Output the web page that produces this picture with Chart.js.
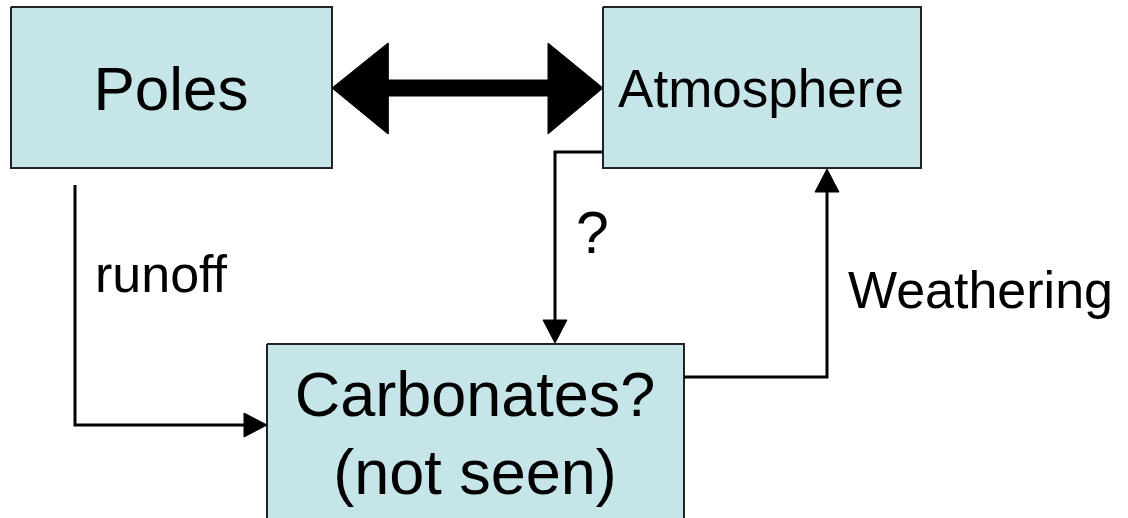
<!DOCTYPE html>
<html>
<head>
<meta charset="utf-8">
<script src="https://cdn.jsdelivr.net/npm/chart.js@4.4.1/dist/chart.umd.min.js"></script>
<style>
  html, body { margin: 0; padding: 0; background: #fff; }
  #wrap { width: 1128px; height: 518px; }
</style>
</head>
<body>
<div id="wrap"><canvas id="diagram" width="1128" height="518"></canvas></div>
<script>
// boxes (diagram units = pixels, y down)
const boxNames = ['Poles', 'Atmosphere', 'Carbonates'];
const boxLeft = [11, 603, 267];
const boxRight = [332, 921, 684];
const boxTop = [7, 7, 344];
const boxBottom = [168, 168, 530];

// connectors: polyline points, then arrowhead tip
const runoffPath = [[75, 185], [75, 425], [245, 425]];
const runoffTip = [267, 425];
const questionPath = [[603, 152], [555, 152], [555, 322]];
const questionTip = [555, 343];
const weatheringPath = [[684, 377], [827, 377], [827, 191]];
const weatheringTip = [827, 169];

// big two-way arrow between Poles and Atmosphere
const exchangeArrow = [[332, 88], [388, 43], [388, 80], [548, 80], [548, 43], [603, 88],
                       [548, 134], [548, 96], [388, 96], [388, 134], [332, 88]];

// labels
const labelText = ['Poles', 'Atmosphere', 'Carbonates?', '(not seen)', 'runoff', '?', 'Weathering'];
const labelX = [171, 761, 475, 475, 95, 576, 848];
const labelY = [110, 107, 416, 494, 292, 253, 308];
const labelSize = [62, 53, 63, 63, 52, 59, 52];
const labelAlign = ['center', 'center', 'center', 'center', 'left', 'left', 'left'];

const toPts = arr => arr.map(p => ({ x: p[0], y: p[1] }));

function headPoints(from, tip) {
    // triangle with base 23px behind the tip, half width 12
    const dx = tip[0] - from[0], dy = tip[1] - from[1];
    const len = Math.hypot(dx, dy);
    const ux = dx / len, uy = dy / len;
    const bx = tip[0] - ux * 23, by = tip[1] - uy * 23;
    return [
        { x: tip[0], y: tip[1] },
        { x: bx - uy * 12, y: by + ux * 12 },
        { x: bx + uy * 12, y: by - ux * 12 },
        { x: tip[0], y: tip[1] }
    ];
}

const datasets = [];

boxNames.forEach((name, i) => {
    datasets.push({
        label: name,
        data: [
            { x: boxLeft[i], y: boxTop[i] },
            { x: boxRight[i], y: boxTop[i] },
            { x: boxRight[i], y: boxBottom[i] },
            { x: boxLeft[i], y: boxBottom[i] },
            { x: boxLeft[i], y: boxTop[i] }
        ],
        borderColor: '#222',
        borderWidth: 2,
        backgroundColor: '#c6e5e8',
        fill: 'shape',
        order: 2
    });
});

[[runoffPath, runoffTip], [questionPath, questionTip], [weatheringPath, weatheringTip]].forEach(([path, tip]) => {
    datasets.push({
        label: 'line',
        data: toPts(path),
        borderColor: '#000',
        borderWidth: 3,
        fill: false,
        order: 1
    });
    datasets.push({
        label: 'head',
        data: headPoints(path[path.length - 1], tip),
        borderColor: '#000',
        borderWidth: 1,
        backgroundColor: '#000',
        fill: 'shape',
        order: 1
    });
});

datasets.push({
    label: 'exchange',
    data: toPts(exchangeArrow),
    borderColor: '#000',
    borderWidth: 1,
    backgroundColor: '#000',
    fill: 'shape',
    order: 1
});

const labelPlugin = {
    id: 'labels',
    afterDatasetsDraw(chart) {
        const ctx = chart.ctx;
        const xs = chart.scales.x, ys = chart.scales.y;
        ctx.save();
        ctx.fillStyle = '#000';
        ctx.textBaseline = 'alphabetic';
        labelText.forEach((t, i) => {
            ctx.font = labelSize[i] + 'px "Liberation Sans", Arial, sans-serif';
            ctx.textAlign = labelAlign[i];
            ctx.fillText(t, xs.getPixelForValue(labelX[i]), ys.getPixelForValue(labelY[i]));
        });
        ctx.restore();
    }
};

new Chart(document.getElementById('diagram'), {
    type: 'scatter',
    data: { datasets },
    options: {
        responsive: false,
        animation: false,
        showLine: true,
        elements: { point: { radius: 0, hoverRadius: 0 }, line: { tension: 0 } },
        layout: { padding: 0 },
        plugins: { legend: { display: false }, tooltip: { enabled: false } },
        events: [],
        scales: {
            x: { type: 'linear', min: 0, max: 1128, display: false },
            y: { type: 'linear', min: 0, max: 518, reverse: true, display: false }
        }
    },
    plugins: [labelPlugin]
});
</script>
</body>
</html>
